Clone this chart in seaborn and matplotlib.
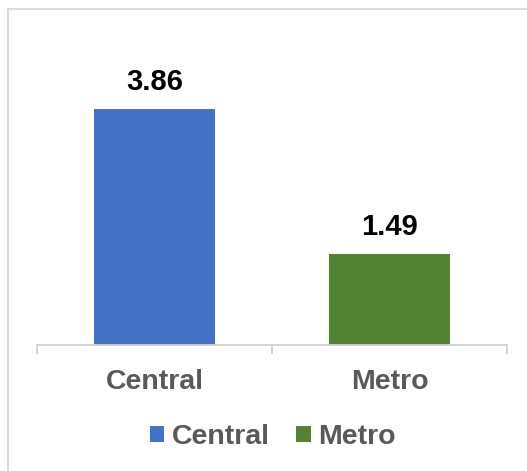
import matplotlib
matplotlib.use("Agg")
import matplotlib.pyplot as plt
from matplotlib.lines import Line2D
from matplotlib.patches import Patch
import seaborn as sns
import pandas as pd

categories = ["Central", "Metro"]
values = [3.86, 1.49]
colors = ["#4472C4", "#548235"]

sns.set_theme(style="white")
plt.rcParams["font.family"] = ["Liberation Sans", "DejaVu Sans"]

W, H = 527, 471
fig = plt.figure(figsize=(W / 100, H / 100), dpi=100)
ax = fig.add_axes([37 / W, 1 - 345 / H, 470 / W, 315 / H])

df = pd.DataFrame({"region": categories, "value": values})
sns.barplot(data=df, x="region", y="value", hue="region",
            palette=dict(zip(categories, colors)), width=0.515,
            saturation=1, legend=False, linewidth=0, ax=ax)

ax.set_xlim(-0.5, 1.5)
ax.set_ylim(0, 5.15)
ax.set_xlabel("")
ax.set_ylabel("")
ax.set_yticks([])

for s in ["top", "right", "left"]:
    ax.spines[s].set_visible(False)
ax.spines["bottom"].set_color("#D0D0D0")
ax.spines["bottom"].set_linewidth(1.3)

# category labels and boundary tick marks
ax.set_xticks([0, 1])
ax.set_xticklabels(categories, fontsize=20.5, fontweight="bold", color="#595959")
ax.tick_params(axis="x", which="major", bottom=True, length=0, pad=17)
ax.set_xticks([-0.5, 0.5, 1.5], minor=True)
ax.tick_params(axis="x", which="minor", bottom=True, length=6.5, width=1.3,
               color="#D0D0D0", direction="out")

# value labels above the bars
for i, v in enumerate(values):
    ax.annotate(f"{v:.2f}", xy=(i, v), xytext=(0, 13.5), textcoords="offset points",
                ha="center", va="baseline", fontsize=21, fontweight="bold",
                color="black")

handles = [Patch(facecolor=c, edgecolor="none") for c in colors]
leg = fig.legend(handles, categories, loc="center", bbox_to_anchor=(273 / W, 1 - 437 / H),
                 ncol=2, frameon=False, handlelength=0.5, handleheight=0.5,
                 handletextpad=0.28, columnspacing=0.92,
                 prop={"size": 20.5, "weight": "bold"})
for t in leg.get_texts():
    t.set_color("#595959")

# chart frame
fig.add_artist(Line2D([7.5 / W, 1.0], [1 - 9 / H, 1 - 9 / H], color="#D9D9D9", lw=1.5,
                      transform=fig.transFigure))
fig.add_artist(Line2D([7.5 / W, 7.5 / W], [0.0, 1 - 9 / H], color="#D9D9D9", lw=1.5,
                      transform=fig.transFigure))

fig.savefig("out.png", dpi=100)
